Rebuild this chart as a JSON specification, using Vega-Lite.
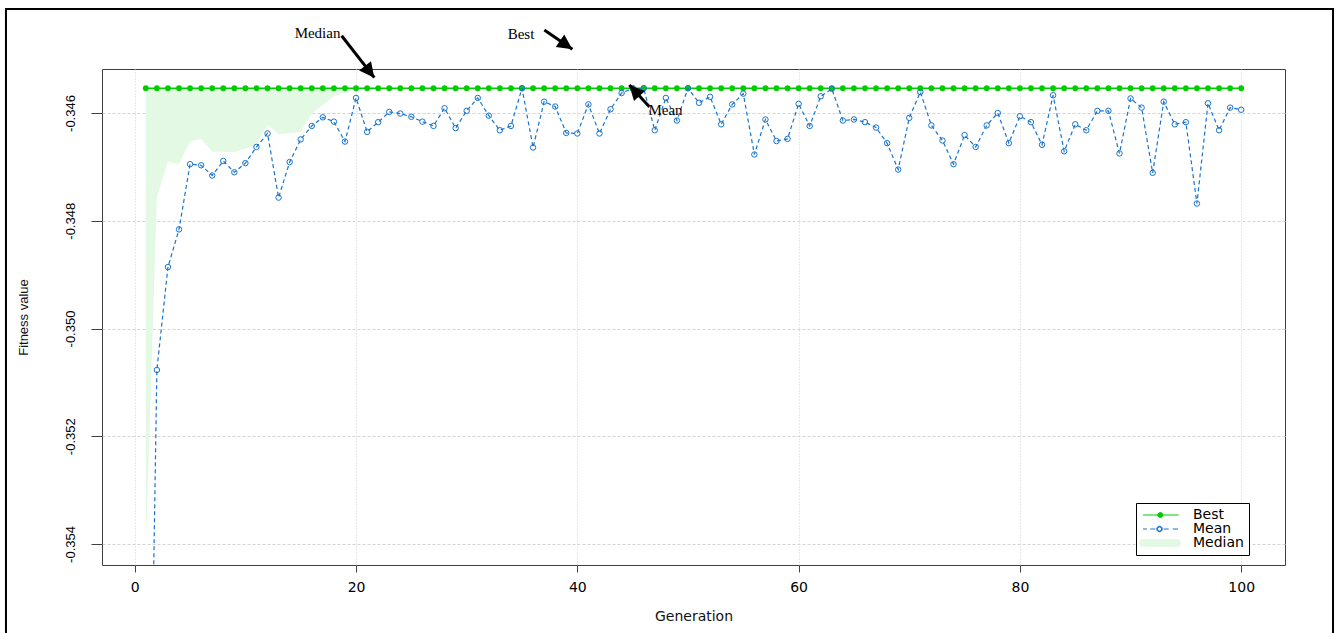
{
  "$schema": "https://vega.github.io/schema/vega-lite/v6.json",
  "width": 1183,
  "height": 496,
  "autosize": {"type": "none"},
  "padding": {"left": 102, "top": 69, "right": 53, "bottom": 68},
  "background": "white",
  "datasets": {
    "ga": [
      {"gen":1,"best":-0.34554,"mean":-0.3636,"median":-0.35407},
      {"gen":2,"best":-0.34554,"mean":-0.35077,"median":-0.34756},
      {"gen":3,"best":-0.34554,"mean":-0.34886,"median":-0.3469},
      {"gen":4,"best":-0.34554,"mean":-0.34816,"median":-0.34695},
      {"gen":5,"best":-0.34554,"mean":-0.34695,"median":-0.34653},
      {"gen":6,"best":-0.34554,"mean":-0.34697,"median":-0.34648},
      {"gen":7,"best":-0.34554,"mean":-0.34716,"median":-0.34672},
      {"gen":8,"best":-0.34554,"mean":-0.34689,"median":-0.34672},
      {"gen":9,"best":-0.34554,"mean":-0.3471,"median":-0.34673},
      {"gen":10,"best":-0.34554,"mean":-0.34693,"median":-0.34666},
      {"gen":11,"best":-0.34554,"mean":-0.34663,"median":-0.34659},
      {"gen":12,"best":-0.34554,"mean":-0.34638,"median":-0.34622},
      {"gen":13,"best":-0.34554,"mean":-0.34757,"median":-0.34639},
      {"gen":14,"best":-0.34554,"mean":-0.34691,"median":-0.34637},
      {"gen":15,"best":-0.34554,"mean":-0.34649,"median":-0.34635},
      {"gen":16,"best":-0.34554,"mean":-0.34624,"median":-0.34601},
      {"gen":17,"best":-0.34554,"mean":-0.34608,"median":-0.34585},
      {"gen":18,"best":-0.34554,"mean":-0.34616,"median":-0.34569},
      {"gen":19,"best":-0.34554,"mean":-0.34653,"median":-0.34562},
      {"gen":20,"best":-0.34554,"mean":-0.34572,"median":-0.34554},
      {"gen":21,"best":-0.34554,"mean":-0.34635,"median":-0.34554},
      {"gen":22,"best":-0.34554,"mean":-0.34617,"median":-0.34554},
      {"gen":23,"best":-0.34554,"mean":-0.34598,"median":-0.34554},
      {"gen":24,"best":-0.34554,"mean":-0.34601,"median":-0.34554},
      {"gen":25,"best":-0.34554,"mean":-0.34607,"median":-0.34554},
      {"gen":26,"best":-0.34554,"mean":-0.34616,"median":-0.34554},
      {"gen":27,"best":-0.34554,"mean":-0.34624,"median":-0.34554},
      {"gen":28,"best":-0.34554,"mean":-0.34591,"median":-0.34554},
      {"gen":29,"best":-0.34554,"mean":-0.34628,"median":-0.34554},
      {"gen":30,"best":-0.34554,"mean":-0.34596,"median":-0.34554},
      {"gen":31,"best":-0.34554,"mean":-0.34572,"median":-0.34554},
      {"gen":32,"best":-0.34554,"mean":-0.34605,"median":-0.34554},
      {"gen":33,"best":-0.34554,"mean":-0.34632,"median":-0.34554},
      {"gen":34,"best":-0.34554,"mean":-0.34624,"median":-0.34554},
      {"gen":35,"best":-0.34554,"mean":-0.34554,"median":-0.34554},
      {"gen":36,"best":-0.34554,"mean":-0.34664,"median":-0.34554},
      {"gen":37,"best":-0.34554,"mean":-0.34579,"median":-0.34554},
      {"gen":38,"best":-0.34554,"mean":-0.34588,"median":-0.34554},
      {"gen":39,"best":-0.34554,"mean":-0.34637,"median":-0.34554},
      {"gen":40,"best":-0.34554,"mean":-0.34638,"median":-0.34554},
      {"gen":41,"best":-0.34554,"mean":-0.34584,"median":-0.34554},
      {"gen":42,"best":-0.34554,"mean":-0.34638,"median":-0.34554},
      {"gen":43,"best":-0.34554,"mean":-0.34593,"median":-0.34554},
      {"gen":44,"best":-0.34554,"mean":-0.34563,"median":-0.34554},
      {"gen":45,"best":-0.34554,"mean":-0.34554,"median":-0.34554},
      {"gen":46,"best":-0.34554,"mean":-0.34554,"median":-0.34554},
      {"gen":47,"best":-0.34554,"mean":-0.34632,"median":-0.34554},
      {"gen":48,"best":-0.34554,"mean":-0.34572,"median":-0.34554},
      {"gen":49,"best":-0.34554,"mean":-0.34614,"median":-0.34554},
      {"gen":50,"best":-0.34554,"mean":-0.34554,"median":-0.34554},
      {"gen":51,"best":-0.34554,"mean":-0.34581,"median":-0.34554},
      {"gen":52,"best":-0.34554,"mean":-0.3457,"median":-0.34554},
      {"gen":53,"best":-0.34554,"mean":-0.34621,"median":-0.34554},
      {"gen":54,"best":-0.34554,"mean":-0.34584,"median":-0.34554},
      {"gen":55,"best":-0.34554,"mean":-0.34564,"median":-0.34554},
      {"gen":56,"best":-0.34554,"mean":-0.34677,"median":-0.34554},
      {"gen":57,"best":-0.34554,"mean":-0.34612,"median":-0.34554},
      {"gen":58,"best":-0.34554,"mean":-0.34652,"median":-0.34554},
      {"gen":59,"best":-0.34554,"mean":-0.34648,"median":-0.34554},
      {"gen":60,"best":-0.34554,"mean":-0.34583,"median":-0.34554},
      {"gen":61,"best":-0.34554,"mean":-0.34624,"median":-0.34554},
      {"gen":62,"best":-0.34554,"mean":-0.34569,"median":-0.34554},
      {"gen":63,"best":-0.34554,"mean":-0.34555,"median":-0.34554},
      {"gen":64,"best":-0.34554,"mean":-0.34614,"median":-0.34554},
      {"gen":65,"best":-0.34554,"mean":-0.34612,"median":-0.34554},
      {"gen":66,"best":-0.34554,"mean":-0.34617,"median":-0.34554},
      {"gen":67,"best":-0.34554,"mean":-0.34627,"median":-0.34554},
      {"gen":68,"best":-0.34554,"mean":-0.34656,"median":-0.34554},
      {"gen":69,"best":-0.34554,"mean":-0.34705,"median":-0.34554},
      {"gen":70,"best":-0.34554,"mean":-0.34609,"median":-0.34554},
      {"gen":71,"best":-0.34554,"mean":-0.34561,"median":-0.34554},
      {"gen":72,"best":-0.34554,"mean":-0.34623,"median":-0.34554},
      {"gen":73,"best":-0.34554,"mean":-0.34651,"median":-0.34554},
      {"gen":74,"best":-0.34554,"mean":-0.34695,"median":-0.34554},
      {"gen":75,"best":-0.34554,"mean":-0.34641,"median":-0.34554},
      {"gen":76,"best":-0.34554,"mean":-0.34663,"median":-0.34554},
      {"gen":77,"best":-0.34554,"mean":-0.34623,"median":-0.34554},
      {"gen":78,"best":-0.34554,"mean":-0.346,"median":-0.34554},
      {"gen":79,"best":-0.34554,"mean":-0.34656,"median":-0.34554},
      {"gen":80,"best":-0.34554,"mean":-0.34606,"median":-0.34554},
      {"gen":81,"best":-0.34554,"mean":-0.34617,"median":-0.34554},
      {"gen":82,"best":-0.34554,"mean":-0.34659,"median":-0.34554},
      {"gen":83,"best":-0.34554,"mean":-0.34567,"median":-0.34554},
      {"gen":84,"best":-0.34554,"mean":-0.34671,"median":-0.34554},
      {"gen":85,"best":-0.34554,"mean":-0.34621,"median":-0.34554},
      {"gen":86,"best":-0.34554,"mean":-0.34632,"median":-0.34554},
      {"gen":87,"best":-0.34554,"mean":-0.34596,"median":-0.34554},
      {"gen":88,"best":-0.34554,"mean":-0.34596,"median":-0.34554},
      {"gen":89,"best":-0.34554,"mean":-0.34675,"median":-0.34554},
      {"gen":90,"best":-0.34554,"mean":-0.34573,"median":-0.34554},
      {"gen":91,"best":-0.34554,"mean":-0.3459,"median":-0.34554},
      {"gen":92,"best":-0.34554,"mean":-0.34711,"median":-0.34554},
      {"gen":93,"best":-0.34554,"mean":-0.34579,"median":-0.34554},
      {"gen":94,"best":-0.34554,"mean":-0.34621,"median":-0.34554},
      {"gen":95,"best":-0.34554,"mean":-0.34617,"median":-0.34554},
      {"gen":96,"best":-0.34554,"mean":-0.34768,"median":-0.34554},
      {"gen":97,"best":-0.34554,"mean":-0.34582,"median":-0.34554},
      {"gen":98,"best":-0.34554,"mean":-0.34632,"median":-0.34554},
      {"gen":99,"best":-0.34554,"mean":-0.3459,"median":-0.34554},
      {"gen":100,"best":-0.34554,"mean":-0.34594,"median":-0.34554}
    ],
    "notes": [
      {"label":"Median","tx":16.52,"ty":-0.344515,"x1":18.70,"y1":-0.344565,"x2":21.65,"y2":-0.345344},
      {"label":"Best","tx":34.91,"ty":-0.344533,"x1":37.02,"y1":-0.344459,"x2":39.55,"y2":-0.344817},
      {"label":"Mean","tx":47.97,"ty":-0.345944,"x1":46.51,"y1":-0.345883,"x2":44.70,"y2":-0.34548}
    ],
    "keys": [
      {"series": "Best"},
      {"series": "Mean"},
      {"series": "Median"}
    ]
  },
  "layer": [
    {
      "data": {"values": [{}]},
      "mark": {"type": "rect", "filled": false, "stroke": "black", "strokeWidth": 2, "clip": false},
      "encoding": {
        "x": {"datum": -11.64, "type": "quantitative", "scale": {"domain": [-2.96, 103.96], "nice": false, "zero": false}},
        "x2": {"datum": 108.3},
        "y": {"datum": -0.344069, "type": "quantitative", "scale": {"domain": [-0.35439, -0.345183], "nice": false, "zero": false}},
        "y2": {"datum": -0.3558}
      }
    },
    {
      "data": {"name": "ga"},
      "mark": {"type": "area", "clip": true, "opacity": 1, "fill": "#e3f9e3"},
      "encoding": {
        "x": {"field": "gen", "type": "quantitative",
          "axis": {"values": [0, 20, 40, 60, 80, 100], "title": "Generation", "tickSize": 7, "labelPadding": 8, "titlePadding": 15,
            "gridDash": [1, 2], "labelFont": "DejaVu Sans", "labelFontSize": 14, "titleFont": "DejaVu Sans", "titleFontSize": 14}},
        "y": {"field": "median", "type": "quantitative",
          "axis": {"values": [-0.354, -0.352, -0.35, -0.348, -0.346], "title": "Fitness value", "tickSize": 11, "labelPadding": 14, "titlePadding": 34,
            "labelAngle": -90, "labelExpr": "'-' + format(-datum.value, '.3f')", "gridDash": [3, 2],
            "labelFont": "Liberation Sans", "labelFontSize": 13, "titleFont": "Liberation Sans", "titleFontSize": 13}},
        "y2": {"field": "best"}
      }
    },
    {
      "data": {"name": "ga"},
      "mark": {"type": "line", "clip": true, "strokeWidth": 1.3, "stroke": "#00CD00"},
      "encoding": {
        "x": {"field": "gen", "type": "quantitative"},
        "y": {"field": "best", "type": "quantitative"}
      }
    },
    {
      "data": {"name": "ga"},
      "mark": {"type": "point", "clip": true, "filled": true, "size": 34, "opacity": 1, "shape": "circle", "fill": "#00CD00"},
      "encoding": {
        "x": {"field": "gen", "type": "quantitative"},
        "y": {"field": "best", "type": "quantitative"}
      }
    },
    {
      "data": {"name": "ga"},
      "mark": {"type": "line", "clip": true, "strokeWidth": 1.2, "strokeDash": [4, 3], "stroke": "#1874CD"},
      "encoding": {
        "x": {"field": "gen", "type": "quantitative"},
        "y": {"field": "mean", "type": "quantitative"}
      }
    },
    {
      "data": {"name": "ga"},
      "mark": {"type": "point", "clip": true, "filled": false, "size": 30, "strokeWidth": 1, "opacity": 1, "shape": "circle", "stroke": "#1874CD"},
      "encoding": {
        "x": {"field": "gen", "type": "quantitative"},
        "y": {"field": "mean", "type": "quantitative"}
      }
    },
    {
      "data": {"name": "notes"},
      "mark": {"type": "rule", "clip": false, "color": "black", "strokeWidth": 3},
      "encoding": {
        "x": {"field": "x1", "type": "quantitative"},
        "y": {"field": "y1", "type": "quantitative"},
        "x2": {"field": "x2"},
        "y2": {"field": "y2"}
      }
    },
    {
      "data": {"name": "notes"},
      "transform": [
        {"calculate": "atan2((datum.x2 - datum.x1) * 11.064, (datum.y2 - datum.y1) * 53875) * 180 / PI", "as": "ang"}
      ],
      "mark": {"type": "point", "clip": false, "filled": true, "color": "black", "opacity": 1, "size": 900, "shape": "M0,0L-0.5,1L0.5,1Z"},
      "encoding": {
        "x": {"field": "x2", "type": "quantitative"},
        "y": {"field": "y2", "type": "quantitative"},
        "angle": {"field": "ang", "type": "quantitative", "scale": null}
      }
    },
    {
      "data": {"name": "notes"},
      "mark": {"type": "text", "clip": false, "font": "Liberation Serif", "fontSize": 15, "color": "black", "align": "center", "baseline": "middle"},
      "encoding": {
        "x": {"field": "tx", "type": "quantitative"},
        "y": {"field": "ty", "type": "quantitative"},
        "text": {"field": "label"}
      }
    },
    {
      "data": {"name": "keys"},
      "mark": {"type": "point", "opacity": 0, "filled": true, "clip": true},
      "encoding": {
        "fill": {"field": "series", "type": "nominal",
          "scale": {"domain": ["Best", "Mean", "Median"], "range": ["#00CD00", "#1874CD", "#e3f9e3"]}},
        "stroke": {"field": "series", "type": "nominal",
          "scale": {"domain": ["Best", "Mean", "Median"], "range": ["#00CD00", "#1874CD", "#e3f9e3"]}},
        "shape": {"field": "series", "type": "nominal",
          "scale": {"domain": ["Best", "Mean", "Median"], "range": [
            "M-1,0H6.14M2.96,0A0.5,0.5,0,1,1,1.96,0A0.5,0.5,0,1,1,2.96,0Z",
            "M-1,0H-0.2M0.46,0H1.46M3.14,0H4.14M4.94,0H6M2.85,0A0.55,0.55,0,1,1,1.75,0A0.55,0.55,0,1,1,2.85,0ZM2.7,0A0.4,0.4,0,1,0,1.9,0A0.4,0.4,0,1,0,2.7,0Z",
            "M-1.06,-0.7H5.8A0.7,0.7,0,0,1,5.8,0.7H-1.06A0.7,0.7,0,0,1,-1.06,-0.7Z"
          ]},
          "legend": {
            "orient": "none", "legendX": 1034, "legendY": 434, "title": null,
            "strokeColor": "black", "fillColor": "white", "padding": 5, "rowPadding": -1,
            "symbolSize": 100, "symbolOpacity": 1, "symbolStrokeWidth": 1, "labelOffset": 38,
            "labelFont": "DejaVu Sans", "labelFontSize": 14, "labelColor": "black"
          }
        }
      }
    }
  ],
  "config": {
    "view": {"stroke": "#404040", "strokeWidth": 1},
    "axis": {
      "grid": true, "gridColor": "#d3d3d3", "gridWidth": 1,
      "domain": false, "tickColor": "#404040", "tickWidth": 1,
      "labelColor": "black", "titleColor": "#111", "titleFontWeight": "normal"
    }
  }
}
